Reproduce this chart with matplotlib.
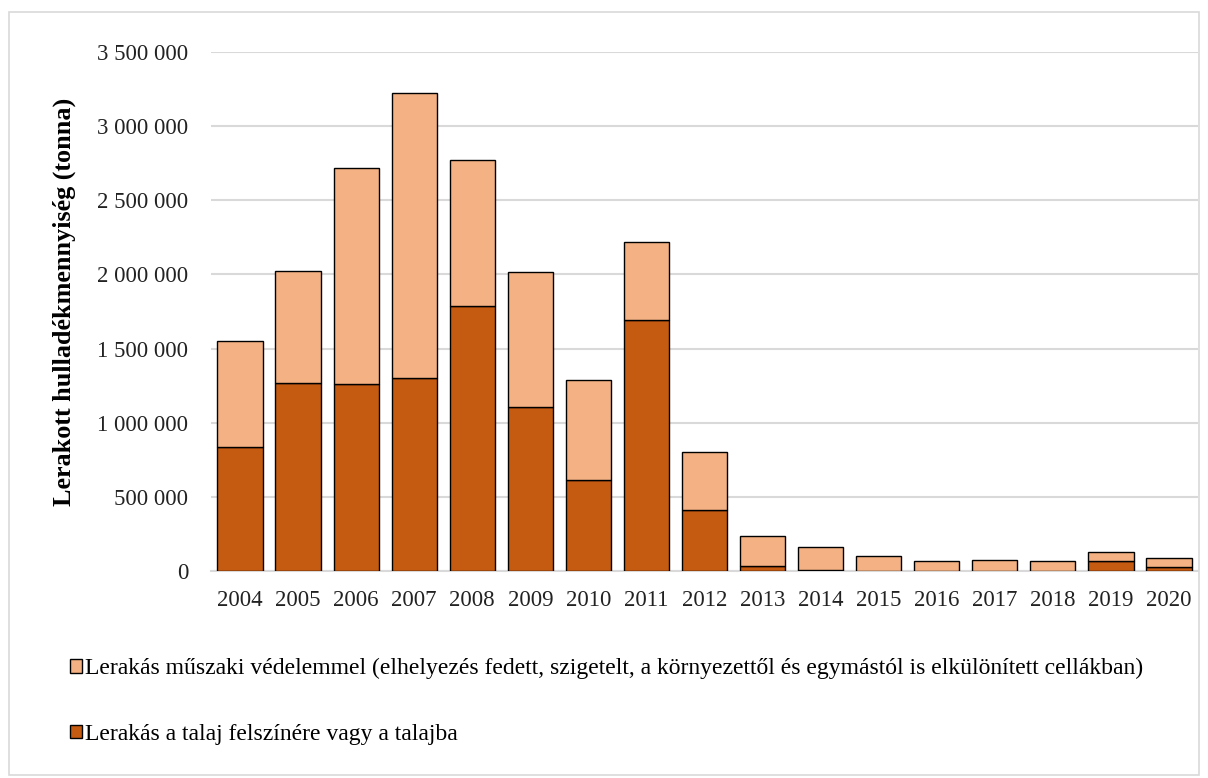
import numpy as np
import matplotlib.pyplot as plt
from matplotlib.patches import Rectangle
from matplotlib.ticker import FuncFormatter

plt.rcParams['font.family'] = ['Liberation Serif', 'DejaVu Serif']

years = ["2004", "2005", "2006", "2007", "2008", "2009", "2010", "2011", "2012",
         "2013", "2014", "2015", "2016", "2017", "2018", "2019", "2020"]
# talajba / talaj felszínére lerakott mennyiség (tonna)
talaj = [836000, 1268000, 1261000, 1301000, 1787000, 1106000, 614000, 1693000, 411000,
         32000, 4000, 2000, 1000, 1000, 1000, 65000, 25000]
# műszaki védelemmel lerakott mennyiség (tonna)
muszaki = [715000, 757000, 1456000, 1922000, 984000, 910000, 674000, 525000, 391000,
           204000, 156000, 99000, 64000, 71000, 66000, 61000, 61000]

label_muszaki = ("Lerakás műszaki védelemmel (elhelyezés fedett, szigetelt, "
                 "a környezettől és egymástól is elkülönített cellákban)")
label_talaj = "Lerakás a talaj felszínére vagy a talajba"

c_dark = "#C55A11"
c_light = "#F4B183"

fig = plt.figure(figsize=(12.08, 7.78), dpi=100)
ax = fig.add_axes([0.1747, 0.2661, 0.8170, 0.6671])

x = np.arange(len(years))
b1 = ax.bar(x, talaj, width=0.78, color=c_dark, edgecolor="black", linewidth=1.0,
            label=label_talaj, zorder=3)
b2 = ax.bar(x, muszaki, bottom=talaj, width=0.78, color=c_light, edgecolor="black",
            linewidth=1.0, label=label_muszaki, zorder=3)

ax.set_xlim(-0.5, len(years) - 0.5)
ax.set_ylim(0, 3500000)
ax.set_yticks(np.arange(0, 3500001, 500000))
ax.yaxis.set_major_formatter(FuncFormatter(lambda v, p: f"{int(v):,}".replace(",", " ")))
ax.set_xticks(x)
ax.set_xticklabels(years)
ax.tick_params(axis="both", length=0, labelsize=16.5, colors="#222222")
ax.tick_params(axis="y", pad=16.5)
ax.tick_params(axis="x", pad=14)

ax.grid(axis="y", color="#d9d9d9", linewidth=1.5, zorder=0)
for s in ["top", "right", "left"]:
    ax.spines[s].set_visible(False)
ax.spines["bottom"].set_color("#d9d9d9")
ax.spines["bottom"].set_linewidth(1.5)

ax.set_ylabel("Lerakott hulladékmennyiség (tonna)", fontsize=18.8, fontweight="bold")
ax.yaxis.set_label_coords(-0.137, 0.519)

fig.legend(handles=[b2, b1], labels=[label_muszaki, label_talaj],
           loc="upper left", bbox_to_anchor=(0.050, 0.166), frameon=False,
           fontsize=17, handlelength=0.5, handleheight=0.5, handletextpad=0.15,
           labelspacing=1.89, borderaxespad=0)

# keret az ábra körül
fig.patches.append(Rectangle((0.0075, 0.004), 0.985, 0.981, transform=fig.transFigure,
                             fill=False, edgecolor="#d9d9d9", linewidth=1.2))

fig.savefig("out.png", dpi=100)
